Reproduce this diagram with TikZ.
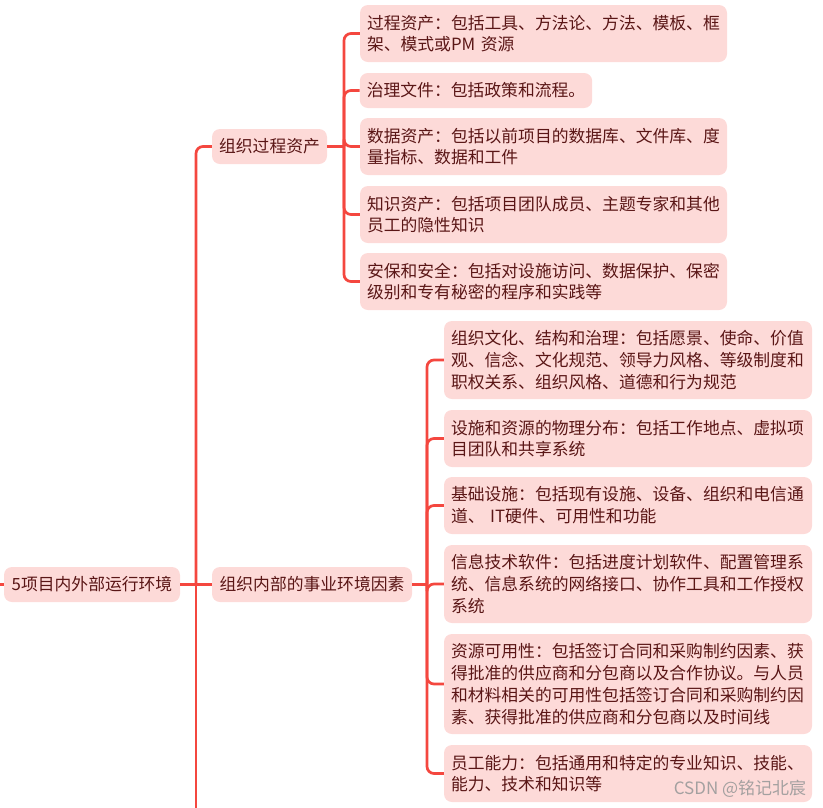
\documentclass[tikz,border=0pt]{standalone}
\usepackage{fontspec}
\setmainfont{Noto Sans CJK SC}
\newfontfamily\wmfont{Noto Sans CJK SC}
\definecolor{boxfill}{HTML}{FDDAD8}
\definecolor{txtcol}{HTML}{5A1616}
\definecolor{linecol}{HTML}{F4473F}
\definecolor{wmcol}{HTML}{9A9A9A}
\begin{document}
\begin{tikzpicture}[x=1pt,y=-1pt,
  topic/.style={fill=boxfill,rounded corners=8pt,text=txtcol,inner xsep=7pt,inner ysep=0pt,
    font=\fontsize{16.8}{21.8}\selectfont,align=left,anchor=center},
  wide/.style={topic,text width=#1,minimum height=0pt},
  conn/.style={draw=linecol,line width=2.7pt,rounded corners=7pt}]
\useasboundingbox (0,0) rectangle (823,807);
% root and level 1
\node[topic,minimum width=176pt,minimum height=35pt] (root) at (92,584.5) {5项目内外部运行环境};
\node[topic,minimum width=115pt,minimum height=35pt] (opa) at (269.5,146.5) {组织过程资产};
\node[topic,minimum width=200pt,minimum height=35pt] (eef) at (312,584.5) {组织内部的事业环境因素};
% children of opa
\node[wide=353pt,minimum height=57pt] (c1) at (543.5,33.5) {过程资产：包括工具、方法论、方法、模板、框\\架、模式或PM 资源};
\node[topic,minimum width=232pt,minimum height=35pt] (c2) at (476,90.5) {治理文件：包括政策和流程。};
\node[wide=353pt,minimum height=57pt] (c3) at (543.5,146.5) {数据资产：包括以前项目的数据库、文件库、度\\量指标、数据和工件};
\node[wide=353pt,minimum height=57pt] (c4) at (543.5,214.5) {知识资产：包括项目团队成员、主题专家和其他\\员工的隐性知识};
\node[wide=353pt,minimum height=57pt] (c5) at (543.5,281.5) {安保和安全：包括对设施访问、数据保护、保密\\级别和专有秘密的程序和实践等};
% children of eef
\node[wide=354pt,minimum height=78pt] (e1) at (628,360) {组织文化、结构和治理：包括愿景、使命、价值\\观、信念、文化规范、领导力风格、等级制度和\\职权关系、组织风格、道德和行为规范};
\node[wide=354pt,minimum height=57pt] (e2) at (628,438.5) {设施和资源的物理分布：包括工作地点、虚拟项\\目团队和共享系统};
\node[wide=354pt,minimum height=57pt] (e3) at (628,505.5) {基础设施：包括现有设施、设备、组织和电信通\\道、 IT硬件、可用性和功能};
\node[wide=354pt,minimum height=78pt] (e4) at (628,584) {信息技术软件：包括进度计划软件、配置管理系\\统、信息系统的网络接口、协作工具和工作授权\\系统};
\node[wide=354pt,minimum height=100pt] (e5) at (628,684) {资源可用性：包括签订合同和采购制约因素、获\\得批准的供应商和分包商以及合作协议。与人员\\和材料相关的可用性包括签订合同和采购制约因\\素、获得批准的供应商和分包商以及时间线};
\node[wide=354pt,minimum height=57pt] (e6) at (628,773.5) {员工能力：包括通用和特定的专业知识、技能、\\能力、技术和知识等};
% junction coordinates
\coordinate (stub) at (0,584.5);
\coordinate (tj) at (196,584.5);
\coordinate (tbottom) at (196,810);
\coordinate (oj) at (344,146.5);
\coordinate (ej) at (427,584.5);
% connectors
\draw[conn] (stub) -- (root.west);
\draw[conn] (root.east) -- (eef.west);
\draw[conn] (tj) |- (opa.west);
\draw[conn] (tj) -- (tbottom);
\draw[conn] (opa.east) -- (oj);
\foreach \n in {c1,c2,c3,c4,c5} \draw[conn] (oj) |- (\n.west);
\draw[conn] (eef.east) -- (ej);
\foreach \n in {e1,e2,e3,e4,e5,e6} \draw[conn] (ej) |- (\n.west);
% watermark
\node[text=wmcol,opacity=0.9,font=\wmfont\fontsize{17}{20}\selectfont,inner sep=0pt] (wm) at (740,788.5) {CSDN @铭记北宸};
\end{tikzpicture}
\end{document}
